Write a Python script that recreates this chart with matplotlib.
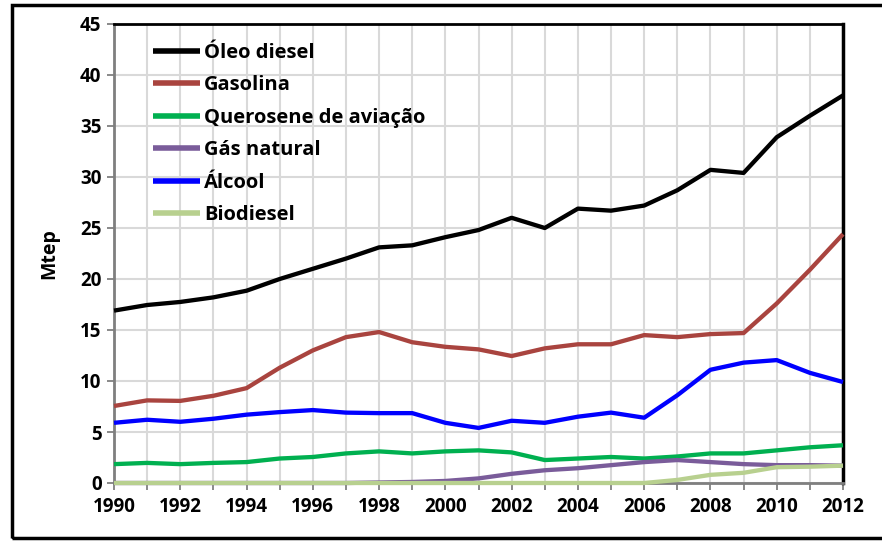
import matplotlib
matplotlib.use("Agg")
import matplotlib.pyplot as plt
from matplotlib.patches import Rectangle
from matplotlib.ticker import MultipleLocator, FixedLocator

years = list(range(1990, 2013))

oleo_diesel = [16.9, 17.45, 17.75, 18.2, 18.85, 20.0, 21.0, 22.0, 23.1, 23.3, 24.1, 24.8,
               26.0, 25.0, 26.9, 26.7, 27.2, 28.7, 30.7, 30.4, 33.9, 36.0, 38.0]
gasolina = [7.55, 8.1, 8.05, 8.55, 9.3, 11.3, 13.0, 14.3, 14.8, 13.8, 13.35, 13.1,
            12.45, 13.2, 13.6, 13.6, 14.5, 14.3, 14.6, 14.7, 17.6, 20.9, 24.4]
querosene = [1.85, 1.97, 1.85, 1.97, 2.05, 2.4, 2.55, 2.9, 3.1, 2.9, 3.1, 3.2,
             3.0, 2.25, 2.4, 2.55, 2.4, 2.6, 2.9, 2.9, 3.2, 3.5, 3.7]
gas_natural = [0.0, 0.0, 0.0, 0.0, 0.0, 0.0, 0.0, 0.0, 0.05, 0.1, 0.2, 0.45,
               0.9, 1.25, 1.45, 1.75, 2.05, 2.25, 2.05, 1.85, 1.75, 1.75, 1.7]
alcool = [5.9, 6.2, 6.0, 6.3, 6.7, 6.95, 7.15, 6.9, 6.85, 6.85, 5.9, 5.4,
          6.1, 5.9, 6.5, 6.9, 6.4, 8.6, 11.1, 11.8, 12.05, 10.8, 9.9]
biodiesel = [0.0, 0.0, 0.0, 0.0, 0.0, 0.0, 0.0, 0.0, 0.0, 0.0, 0.0, 0.0,
             0.0, 0.0, 0.0, 0.0, 0.0, 0.3, 0.8, 1.0, 1.55, 1.6, 1.7]

labels = ["Óleo diesel", "Gasolina", "Querosene de aviação", "Gás natural", "Álcool", "Biodiesel"]
series = [oleo_diesel, gasolina, querosene, gas_natural, alcool, biodiesel]
colors = ["#000000", "#a9443f", "#00b050", "#7a5c9a", "#0000ff", "#b8d08f"]

x_tick_labels = [str(y) for y in range(1990, 2013, 2)]

plt.rcParams['font.family'] = ['Open Sans', 'DejaVu Sans']

fig = plt.figure(figsize=(8.82, 5.43), dpi=100)
W, H = 882, 543
ax = fig.add_axes([114 / W, 1 - 483 / H, (843 - 114) / W, (483 - 24) / H])

lines = []
for i in range(6):
    ln, = ax.plot(years, series[i], color=colors[i], lw=3.1, label=labels[i],
                  solid_joinstyle='round', solid_capstyle='butt', clip_on=False, zorder=3 + i * 0.1)
    lines.append(ln)

ax.set_xlim(1990, 2012)
ax.set_ylim(0, 45)
ax.yaxis.set_major_locator(MultipleLocator(5))
ax.xaxis.set_major_locator(FixedLocator(list(range(1990, 2013, 2))))
ax.xaxis.set_minor_locator(MultipleLocator(1))
ax.set_xticklabels(x_tick_labels)
ax.grid(True, which='both', axis='x', color='#d9d9d9', lw=1.5, zorder=0)
ax.grid(True, which='major', axis='y', color='#d9d9d9', lw=1.5, zorder=0)
ax.set_axisbelow(True)

for lab in ax.get_xticklabels() + ax.get_yticklabels():
    lab.set_fontweight('bold')
    lab.set_fontsize(13.5)
ax.tick_params(axis='both', which='both', direction='out', length=5, width=1.3, color='#808080')
ax.tick_params(axis='y', pad=4)
ax.tick_params(axis='x', pad=5)

ax.spines['left'].set_color('#7f7f7f')
ax.spines['left'].set_linewidth(2)
ax.spines['bottom'].set_color('#7f7f7f')
ax.spines['bottom'].set_linewidth(2)
ax.spines['top'].set_color('black')
ax.spines['top'].set_linewidth(2)
ax.spines['right'].set_color('black')
ax.spines['right'].set_linewidth(2.5)

ax.set_ylabel('Mtep', fontsize=14, fontweight='bold', labelpad=15)

leg = ax.legend(lines, labels, loc='upper left', frameon=False,
                bbox_to_anchor=((153 - 114) / 729, (483 - 43) / 459),
                borderaxespad=0, borderpad=0, handlelength=2.35, handletextpad=0.18,
                labelspacing=0.62, prop={'family': ['Open Sans', 'DejaVu Sans'], 'weight': 'bold', 'size': 14.5})
for lh in leg.get_lines():
    lh.set_linewidth(4)

fig.patches.append(Rectangle((12 / W, 1 - 538 / H), (W + 10 - 12) / W, (538 - 5) / H,
                             transform=fig.transFigure, fill=False, edgecolor='black',
                             lw=2.5, clip_on=False))

fig.savefig('out.png', dpi=100)
